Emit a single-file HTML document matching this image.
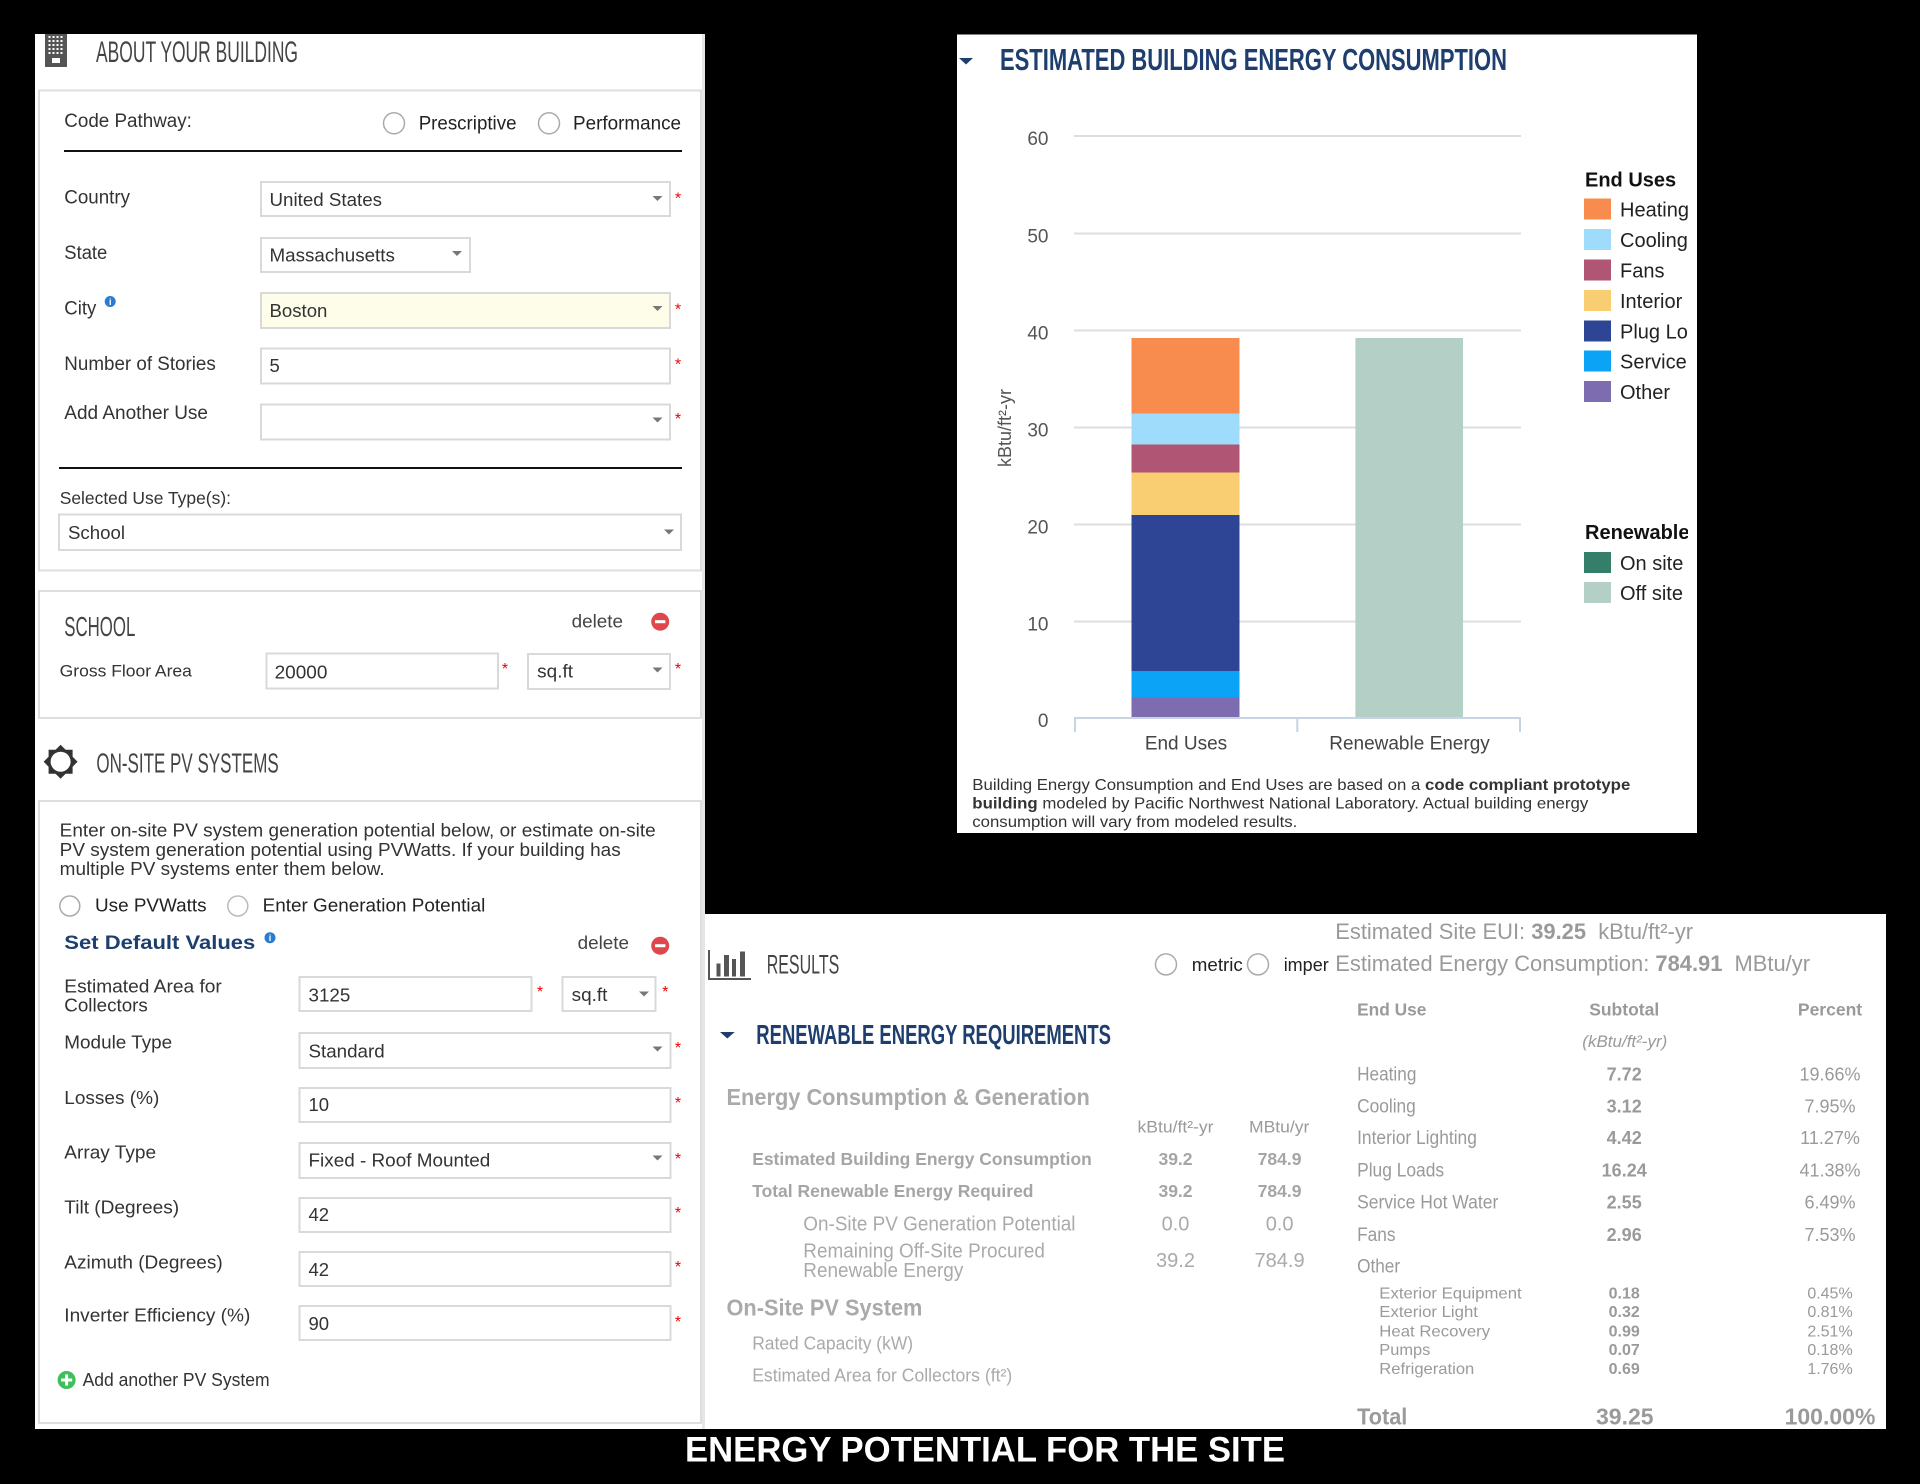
<!DOCTYPE html>
<html>
<head>
<meta charset="utf-8">
<style>
html,body{margin:0;padding:0;background:#000;}
svg{display:block;}
</style>
</head>
<body>
<svg xmlns="http://www.w3.org/2000/svg" width="1920" height="1484" viewBox="0 0 1920 1484" font-family="'Liberation Sans', Arial, sans-serif">
<defs>
  <clipPath id="legclip"><rect x="1578" y="150" width="110" height="470"/></clipPath>
  <clipPath id="impclip"><rect x="1270" y="940" width="59" height="50"/></clipPath>
  <clipPath id="respanel"><rect x="705" y="914" width="1181" height="515"/></clipPath>
</defs>
<rect width="1920" height="1484" fill="#000"/>

<!-- ================= LEFT PANEL ================= -->
<rect x="35" y="34" width="670" height="1395" fill="#fff"/>
<rect x="702" y="34" width="3" height="1395" fill="#e6e6e6"/>

<!-- building icon -->
<rect x="45" y="34" width="22" height="33" fill="#555"/>
<g fill="#fff">
  <rect x="48.5" y="36" width="2" height="2"/><rect x="52.5" y="36" width="2" height="2"/><rect x="56.5" y="36" width="2" height="2"/><rect x="60.5" y="36" width="2" height="2"/>
  <rect x="48.5" y="40" width="2" height="2"/><rect x="52.5" y="40" width="2" height="2"/><rect x="56.5" y="40" width="2" height="2"/><rect x="60.5" y="40" width="2" height="2"/>
  <rect x="48.5" y="44" width="2" height="2"/><rect x="52.5" y="44" width="2" height="2"/><rect x="56.5" y="44" width="2" height="2"/><rect x="60.5" y="44" width="2" height="2"/>
  <rect x="48.5" y="48" width="2" height="2"/><rect x="52.5" y="48" width="2" height="2"/><rect x="56.5" y="48" width="2" height="2"/><rect x="60.5" y="48" width="2" height="2"/>
  <rect x="48.5" y="52" width="2" height="2"/><rect x="52.5" y="52" width="2" height="2"/><rect x="56.5" y="52" width="2" height="2"/><rect x="60.5" y="52" width="2" height="2"/>
  <rect x="52" y="58" width="8" height="5"/>
</g>
<text x="96" y="62" font-size="30" fill="#444" textLength="202" lengthAdjust="spacingAndGlyphs">ABOUT YOUR BUILDING</text>

<!-- card 1 -->
<rect x="39" y="90.5" width="662" height="480" fill="#fff" stroke="#dedede" stroke-width="2"/>
<text x="64.3" y="127" font-size="19" fill="#333" textLength="127.6" lengthAdjust="spacingAndGlyphs">Code Pathway:</text>
<circle cx="394" cy="123.3" r="10.5" fill="#fff" stroke="#aaa" stroke-width="1.5"/>
<text x="418.7" y="129.5" font-size="19" fill="#222" textLength="97.8" lengthAdjust="spacingAndGlyphs">Prescriptive</text>
<circle cx="549" cy="123.3" r="10.5" fill="#fff" stroke="#aaa" stroke-width="1.5"/>
<text x="573" y="129.5" font-size="19" fill="#222" textLength="108" lengthAdjust="spacingAndGlyphs">Performance</text>
<rect x="64" y="150" width="618" height="2" fill="#111"/>

<text x="64.3" y="203.5" font-size="19" fill="#333" textLength="65.7" lengthAdjust="spacingAndGlyphs">Country</text>
<rect x="261" y="182" width="409" height="34" fill="#fff" stroke="#d9d9d9" stroke-width="2"/>
<text x="269.5" y="206" font-size="18.5" fill="#333" textLength="112.5" lengthAdjust="spacingAndGlyphs">United States</text>
<polygon points="652.5,196 662.5,196 657.5,201" fill="#777"/>
<text x="678" y="203.5" font-size="16" fill="#e00" text-anchor="middle">*</text>

<text x="64.3" y="259" font-size="19" fill="#333" textLength="43" lengthAdjust="spacingAndGlyphs">State</text>
<rect x="261" y="238" width="209" height="34" fill="#fff" stroke="#d9d9d9" stroke-width="2"/>
<text x="269.5" y="261.6" font-size="18.5" fill="#333" textLength="125.4" lengthAdjust="spacingAndGlyphs">Massachusetts</text>
<polygon points="452,251 462,251 457,256" fill="#777"/>

<text x="64.3" y="314.5" font-size="19" fill="#333" textLength="32" lengthAdjust="spacingAndGlyphs">City</text>
<circle cx="110.2" cy="301.5" r="5.5" fill="#2b7bd0"/>
<text x="110.2" y="305" font-size="9" font-weight="bold" fill="#fff" text-anchor="middle">i</text>
<rect x="261" y="293" width="409" height="35" fill="#fdfdea" stroke="#d9d9d9" stroke-width="2"/>
<text x="269.5" y="317" font-size="18.5" fill="#333" textLength="57.9" lengthAdjust="spacingAndGlyphs">Boston</text>
<polygon points="652.5,306 662.5,306 657.5,311" fill="#777"/>
<text x="678" y="314.6" font-size="16" fill="#e00" text-anchor="middle">*</text>

<text x="64.3" y="370" font-size="19" fill="#333" textLength="151.5" lengthAdjust="spacingAndGlyphs">Number of Stories</text>
<rect x="261" y="348.5" width="409" height="35" fill="#fff" stroke="#d9d9d9" stroke-width="2"/>
<text x="269.5" y="371.8" font-size="18.5" fill="#333">5</text>
<text x="678" y="369.7" font-size="16" fill="#e00" text-anchor="middle">*</text>

<text x="64.3" y="419.2" font-size="19" fill="#333" textLength="143.7" lengthAdjust="spacingAndGlyphs">Add Another Use</text>
<rect x="261" y="404.5" width="409" height="35" fill="#fff" stroke="#d9d9d9" stroke-width="2"/>
<polygon points="652.5,417.5 662.5,417.5 657.5,422.5" fill="#777"/>
<text x="678" y="424" font-size="16" fill="#e00" text-anchor="middle">*</text>

<rect x="59" y="467" width="623" height="2" fill="#111"/>
<text x="59.7" y="503.9" font-size="17.5" fill="#333" textLength="171.3" lengthAdjust="spacingAndGlyphs">Selected Use Type(s):</text>
<rect x="59" y="514.5" width="622" height="35.5" fill="#fff" stroke="#d9d9d9" stroke-width="2"/>
<text x="68" y="539" font-size="18.5" fill="#333" textLength="57" lengthAdjust="spacingAndGlyphs">School</text>
<polygon points="664,529.5 674,529.5 669,534.5" fill="#777"/>

<!-- card 2 SCHOOL -->
<rect x="39" y="591" width="662" height="127" fill="#fff" stroke="#dedede" stroke-width="2"/>
<text x="64.3" y="636" font-size="27.5" fill="#444" textLength="71" lengthAdjust="spacingAndGlyphs">SCHOOL</text>
<text x="571.6" y="627.3" font-size="18" fill="#444" textLength="51.4" lengthAdjust="spacingAndGlyphs">delete</text>
<circle cx="660.2" cy="621.7" r="9" fill="#e0474c"/>
<rect x="655" y="620.2" width="10.4" height="3" fill="#fff"/>
<text x="59.7" y="676.7" font-size="17" fill="#333" textLength="132.2" lengthAdjust="spacingAndGlyphs">Gross Floor Area</text>
<rect x="266.5" y="653.5" width="231.5" height="35" fill="#fff" stroke="#d9d9d9" stroke-width="2"/>
<text x="274.6" y="678.3" font-size="18.5" fill="#333" textLength="52.8" lengthAdjust="spacingAndGlyphs">20000</text>
<text x="505" y="674" font-size="16" fill="#e00" text-anchor="middle">*</text>
<rect x="528" y="654" width="142" height="35" fill="#fff" stroke="#d9d9d9" stroke-width="2"/>
<text x="537.2" y="677.3" font-size="18.5" fill="#333" textLength="35.8" lengthAdjust="spacingAndGlyphs">sq.ft</text>
<polygon points="652.5,667.5 662.5,667.5 657.5,672.5" fill="#777"/>
<text x="678" y="674" font-size="16" fill="#e00" text-anchor="middle">*</text>

<!-- sun icon -->
<polygon fill="#333" points="77.6,761.7 72.6,766.7 72.6,773.7 65.6,773.7 60.6,778.7 55.6,773.7 48.6,773.7 48.6,766.7 43.6,761.7 48.6,756.7 48.6,749.7 55.6,749.7 60.6,744.7 65.6,749.7 72.6,749.7 72.6,756.7"/>
<circle cx="60.6" cy="761.7" r="13" fill="#333"/>
<circle cx="60.6" cy="761.7" r="10" fill="#fff"/>
<text x="96.4" y="772.7" font-size="27.5" fill="#444" textLength="182.3" lengthAdjust="spacingAndGlyphs">ON-SITE PV SYSTEMS</text>

<!-- card 3 PV -->
<rect x="39" y="801" width="662" height="622" fill="#fff" stroke="#dedede" stroke-width="2"/>
<text x="59.7" y="836.7" font-size="18" fill="#333" textLength="596" lengthAdjust="spacingAndGlyphs">Enter on-site PV system generation potential below, or estimate on-site</text>
<text x="59.7" y="856" font-size="18" fill="#333" textLength="561" lengthAdjust="spacingAndGlyphs">PV system generation potential using PVWatts. If your building has</text>
<text x="59.7" y="875" font-size="18" fill="#333" textLength="325" lengthAdjust="spacingAndGlyphs">multiple PV systems enter them below.</text>

<circle cx="69.8" cy="906" r="10" fill="#fff" stroke="#aaa" stroke-width="1.5"/>
<text x="95" y="911.7" font-size="18.5" fill="#222" textLength="111.6" lengthAdjust="spacingAndGlyphs">Use PVWatts</text>
<circle cx="237.8" cy="906" r="10" fill="#fff" stroke="#bbb" stroke-width="1.5"/>
<text x="262.6" y="911.7" font-size="18.5" fill="#222" textLength="222.7" lengthAdjust="spacingAndGlyphs">Enter Generation Potential</text>

<text x="64.3" y="949" font-size="19.5" font-weight="bold" fill="#1d3f6e" textLength="191" lengthAdjust="spacingAndGlyphs">Set Default Values</text>
<circle cx="270" cy="937.7" r="5.5" fill="#2b7bd0"/>
<text x="270" y="941.2" font-size="9" font-weight="bold" fill="#fff" text-anchor="middle">i</text>
<text x="577.6" y="949" font-size="18" fill="#444" textLength="51.4" lengthAdjust="spacingAndGlyphs">delete</text>
<circle cx="660.2" cy="945.7" r="9" fill="#e0474c"/>
<rect x="655" y="944.2" width="10.4" height="3" fill="#fff"/>

<text x="64.3" y="992.7" font-size="18.5" fill="#333" textLength="157.5" lengthAdjust="spacingAndGlyphs">Estimated Area for</text>
<text x="64.3" y="1011.7" font-size="18.5" fill="#333" textLength="83.5" lengthAdjust="spacingAndGlyphs">Collectors</text>
<rect x="299.5" y="977" width="232" height="34" fill="#fff" stroke="#d9d9d9" stroke-width="2"/>
<text x="308.5" y="1001.7" font-size="18.5" fill="#333" textLength="41.8" lengthAdjust="spacingAndGlyphs">3125</text>
<text x="540" y="997" font-size="16" fill="#e00" text-anchor="middle">*</text>
<rect x="562.5" y="977" width="93" height="34" fill="#fff" stroke="#d9d9d9" stroke-width="2"/>
<text x="571.6" y="1001" font-size="18.5" fill="#333" textLength="35.8" lengthAdjust="spacingAndGlyphs">sq.ft</text>
<polygon points="639,991.5 649,991.5 644,996.5" fill="#777"/>
<text x="665.3" y="997" font-size="16" fill="#e00" text-anchor="middle">*</text>

<text x="64.3" y="1048.3" font-size="18.5" fill="#333" textLength="107.9" lengthAdjust="spacingAndGlyphs">Module Type</text>
<rect x="299.5" y="1033" width="371" height="35" fill="#fff" stroke="#d9d9d9" stroke-width="2"/>
<text x="308.5" y="1057.3" font-size="18.5" fill="#333" textLength="76.2" lengthAdjust="spacingAndGlyphs">Standard</text>
<polygon points="652.5,1046.5 662.5,1046.5 657.5,1051.5" fill="#777"/>
<text x="678" y="1053" font-size="16" fill="#e00" text-anchor="middle">*</text>

<text x="64.3" y="1104" font-size="18.5" fill="#333" textLength="95" lengthAdjust="spacingAndGlyphs">Losses (%)</text>
<rect x="299.5" y="1088" width="371" height="34" fill="#fff" stroke="#d9d9d9" stroke-width="2"/>
<text x="308.5" y="1111" font-size="18.5" fill="#333">10</text>
<text x="678" y="1108" font-size="16" fill="#e00" text-anchor="middle">*</text>

<text x="64.3" y="1158.3" font-size="18.5" fill="#333" textLength="91.8" lengthAdjust="spacingAndGlyphs">Array Type</text>
<rect x="299.5" y="1143" width="371" height="35" fill="#fff" stroke="#d9d9d9" stroke-width="2"/>
<text x="308.5" y="1166.7" font-size="18.5" fill="#333" textLength="181.8" lengthAdjust="spacingAndGlyphs">Fixed - Roof Mounted</text>
<polygon points="652.5,1155.5 662.5,1155.5 657.5,1160.5" fill="#777"/>
<text x="678" y="1164" font-size="16" fill="#e00" text-anchor="middle">*</text>

<text x="64.3" y="1213.3" font-size="18.5" fill="#333" textLength="114.8" lengthAdjust="spacingAndGlyphs">Tilt (Degrees)</text>
<rect x="299.5" y="1198" width="371" height="34" fill="#fff" stroke="#d9d9d9" stroke-width="2"/>
<text x="308.5" y="1221" font-size="18.5" fill="#333">42</text>
<text x="678" y="1218" font-size="16" fill="#e00" text-anchor="middle">*</text>

<text x="64.3" y="1268.3" font-size="18.5" fill="#333" textLength="158.4" lengthAdjust="spacingAndGlyphs">Azimuth (Degrees)</text>
<rect x="299.5" y="1252" width="371" height="34" fill="#fff" stroke="#d9d9d9" stroke-width="2"/>
<text x="308.5" y="1276" font-size="18.5" fill="#333">42</text>
<text x="678" y="1272" font-size="16" fill="#e00" text-anchor="middle">*</text>

<text x="64.3" y="1321.7" font-size="18.5" fill="#333" textLength="186" lengthAdjust="spacingAndGlyphs">Inverter Efficiency (%)</text>
<rect x="299.5" y="1306" width="371" height="34" fill="#fff" stroke="#d9d9d9" stroke-width="2"/>
<text x="308.5" y="1330" font-size="18.5" fill="#333">90</text>
<text x="678" y="1327" font-size="16" fill="#e00" text-anchor="middle">*</text>

<circle cx="66.6" cy="1380" r="9" fill="#3fbf5b"/>
<rect x="61" y="1378.5" width="11.2" height="3" fill="#fff"/>
<rect x="65.1" y="1374.4" width="3" height="11.2" fill="#fff"/>
<text x="82.6" y="1386" font-size="18" fill="#333" textLength="187" lengthAdjust="spacingAndGlyphs">Add another PV System</text>

<!-- ================= CHART PANEL ================= -->
<rect x="957" y="34.5" width="740" height="798.5" fill="#fff"/>
<polygon points="959,58 973,58 966,64.5" fill="#1d3e6e"/>
<text x="1000" y="70" font-size="31" font-weight="bold" fill="#1d3e6e" textLength="507" lengthAdjust="spacingAndGlyphs">ESTIMATED BUILDING ENERGY CONSUMPTION</text>

<g stroke="#dedede" stroke-width="2">
  <line x1="1074" y1="136" x2="1521" y2="136"/>
  <line x1="1074" y1="233.5" x2="1521" y2="233.5"/>
  <line x1="1074" y1="330.5" x2="1521" y2="330.5"/>
  <line x1="1074" y1="427.5" x2="1521" y2="427.5"/>
  <line x1="1074" y1="524.5" x2="1521" y2="524.5"/>
  <line x1="1074" y1="621.5" x2="1521" y2="621.5"/>
</g>
<g font-size="19" fill="#555" text-anchor="end">
  <text x="1048.5" y="145">60</text>
  <text x="1048.5" y="242.5">50</text>
  <text x="1048.5" y="339.5">40</text>
  <text x="1048.5" y="436.5">30</text>
  <text x="1048.5" y="533.5">20</text>
  <text x="1048.5" y="630.5">10</text>
  <text x="1048.5" y="727">0</text>
</g>
<text transform="translate(1011,428) rotate(-90)" font-size="18" fill="#555" text-anchor="middle">kBtu/ft²-yr</text>

<!-- bars -->
<rect x="1131.5" y="338" width="108" height="75.5" fill="#f78c4e"/>
<rect x="1131.5" y="413.5" width="108" height="31" fill="#9fdcfb"/>
<rect x="1131.5" y="444.5" width="108" height="28" fill="#b05573"/>
<rect x="1131.5" y="472.5" width="108" height="42.5" fill="#f9cd72"/>
<rect x="1131.5" y="515" width="108" height="156" fill="#2e4595"/>
<rect x="1131.5" y="671" width="108" height="26.5" fill="#0aa3f5"/>
<rect x="1131.5" y="697.5" width="108" height="20.5" fill="#7e6cb0"/>
<rect x="1355.4" y="338" width="107.6" height="380" fill="#b3cfc6"/>

<g stroke="#c6d4e4" stroke-width="2">
  <line x1="1074" y1="718" x2="1521" y2="718"/>
  <line x1="1075" y1="717" x2="1075" y2="732"/>
  <line x1="1297.3" y1="717" x2="1297.3" y2="732"/>
  <line x1="1520" y1="717" x2="1520" y2="732"/>
</g>
<text x="1186" y="749.5" font-size="19" fill="#444" text-anchor="middle">End Uses</text>
<text x="1409.5" y="749.5" font-size="19" fill="#444" text-anchor="middle">Renewable Energy</text>

<!-- legend -->
<g clip-path="url(#legclip)">
  <text x="1585" y="186.5" font-size="20" font-weight="bold" fill="#111">End Uses</text>
  <rect x="1584" y="198.5" width="27" height="21" fill="#f78c4e"/>
  <text x="1620" y="216.5" font-size="20" fill="#222">Heating</text>
  <rect x="1584" y="229" width="27" height="21" fill="#9fdcfb"/>
  <text x="1620" y="247" font-size="20" fill="#222">Cooling</text>
  <rect x="1584" y="259.5" width="27" height="21" fill="#b05573"/>
  <text x="1620" y="277.5" font-size="20" fill="#222">Fans</text>
  <rect x="1584" y="290" width="27" height="21" fill="#f9cd72"/>
  <text x="1620" y="308" font-size="20" fill="#222">Interior</text>
  <rect x="1584" y="320.5" width="27" height="21" fill="#2e4595"/>
  <text x="1620" y="338.5" font-size="20" fill="#222">Plug Loads</text>
  <rect x="1584" y="350.5" width="27" height="21" fill="#0aa3f5"/>
  <text x="1620" y="368.5" font-size="20" fill="#222">Service</text>
  <rect x="1584" y="381" width="27" height="21" fill="#7e6cb0"/>
  <text x="1620" y="399" font-size="20" fill="#222">Other</text>

  <text x="1585" y="539" font-size="20" font-weight="bold" fill="#111">Renewable</text>
  <rect x="1584" y="552" width="27" height="21" fill="#357f6a"/>
  <text x="1620" y="570" font-size="20" fill="#222">On site</text>
  <rect x="1584" y="582" width="27" height="21" fill="#b3cfc6"/>
  <text x="1620" y="600" font-size="20" fill="#222">Off site</text>
</g>

<text x="972.3" y="790" font-size="16" fill="#333" textLength="658" lengthAdjust="spacingAndGlyphs">Building Energy Consumption and End Uses are based on a <tspan font-weight="bold">code compliant prototype</tspan></text>
<text x="972.3" y="808.5" font-size="16" fill="#333" textLength="616" lengthAdjust="spacingAndGlyphs"><tspan font-weight="bold">building</tspan> modeled by Pacific Northwest National Laboratory. Actual building energy</text>
<text x="972.3" y="827" font-size="16" fill="#333" textLength="325" lengthAdjust="spacingAndGlyphs">consumption will vary from modeled results.</text>

<!-- ================= RESULTS PANEL ================= -->
<rect x="705" y="914" width="1181" height="515" fill="#fff"/>
<g clip-path="url(#respanel)">
<!-- results icon -->
<g fill="#555">
  <rect x="708" y="950" width="2" height="30"/>
  <rect x="708" y="978" width="43" height="2"/>
  <rect x="716.5" y="963.5" width="4" height="13"/>
  <rect x="724" y="955" width="5" height="21.5"/>
  <rect x="732" y="959" width="4" height="17.5"/>
  <rect x="740" y="951.5" width="5" height="25"/>
</g>
<text x="766.7" y="973.3" font-size="26.5" fill="#444" textLength="72.6" lengthAdjust="spacingAndGlyphs">RESULTS</text>

<circle cx="1166" cy="964.4" r="10.5" fill="#fff" stroke="#aaa" stroke-width="1.5"/>
<text x="1191.8" y="970.8" font-size="18" fill="#222" textLength="51" lengthAdjust="spacingAndGlyphs">metric</text>
<circle cx="1258" cy="964.4" r="10.5" fill="#fff" stroke="#aaa" stroke-width="1.5"/>
<g clip-path="url(#impclip)"><text x="1283.7" y="970.8" font-size="18" fill="#222">imperial</text></g>

<text x="1335.3" y="939.1" font-size="22" fill="#9a9a9a" textLength="357.8" lengthAdjust="spacingAndGlyphs" xml:space="preserve">Estimated Site EUI: <tspan font-weight="bold">39.25</tspan>  kBtu/ft²-yr</text>
<text x="1335.3" y="970.8" font-size="22" fill="#9a9a9a" textLength="474.7" lengthAdjust="spacingAndGlyphs" xml:space="preserve">Estimated Energy Consumption: <tspan font-weight="bold">784.91</tspan>  MBtu/yr</text>

<polygon points="720,1032 734.7,1032 727.3,1038.5" fill="#1d3e6e"/>
<text x="756.3" y="1044" font-size="27.5" font-weight="bold" fill="#1d3e6e" textLength="354.7" lengthAdjust="spacingAndGlyphs">RENEWABLE ENERGY REQUIREMENTS</text>

<text x="726.5" y="1104.8" font-size="23" font-weight="bold" fill="#aaa" textLength="363.3" lengthAdjust="spacingAndGlyphs">Energy Consumption &amp; Generation</text>
<text x="1137.5" y="1132.5" font-size="17" fill="#9a9a9a" textLength="76" lengthAdjust="spacingAndGlyphs">kBtu/ft²-yr</text>
<text x="1249" y="1132.5" font-size="17" fill="#9a9a9a" textLength="60.4" lengthAdjust="spacingAndGlyphs">MBtu/yr</text>

<text x="752.2" y="1165.2" font-size="17.5" font-weight="bold" fill="#a5a5a5" textLength="339.6" lengthAdjust="spacingAndGlyphs">Estimated Building Energy Consumption</text>
<text x="1175.5" y="1165.2" font-size="17.5" font-weight="bold" fill="#a5a5a5" text-anchor="middle">39.2</text>
<text x="1279.6" y="1165.2" font-size="17.5" font-weight="bold" fill="#a5a5a5" text-anchor="middle">784.9</text>

<text x="752.2" y="1196.8" font-size="17.5" font-weight="bold" fill="#a5a5a5" textLength="281.3" lengthAdjust="spacingAndGlyphs">Total Renewable Energy Required</text>
<text x="1175.5" y="1196.8" font-size="17.5" font-weight="bold" fill="#a5a5a5" text-anchor="middle">39.2</text>
<text x="1279.6" y="1196.8" font-size="17.5" font-weight="bold" fill="#a5a5a5" text-anchor="middle">784.9</text>

<text x="803.3" y="1230.7" font-size="20" fill="#aaa" textLength="272.2" lengthAdjust="spacingAndGlyphs">On-Site PV Generation Potential</text>
<text x="1175.5" y="1230.7" font-size="20" fill="#aaa" text-anchor="middle">0.0</text>
<text x="1279.6" y="1230.7" font-size="20" fill="#aaa" text-anchor="middle">0.0</text>

<text x="803.3" y="1257.5" font-size="20" fill="#aaa" textLength="241.6" lengthAdjust="spacingAndGlyphs">Remaining Off-Site Procured</text>
<text x="803.3" y="1277" font-size="20" fill="#aaa" textLength="160" lengthAdjust="spacingAndGlyphs">Renewable Energy</text>
<text x="1175.5" y="1266.8" font-size="20" fill="#aaa" text-anchor="middle">39.2</text>
<text x="1279.6" y="1266.8" font-size="20" fill="#aaa" text-anchor="middle">784.9</text>

<text x="726.5" y="1315.3" font-size="23" font-weight="bold" fill="#aaa" textLength="195.9" lengthAdjust="spacingAndGlyphs">On-Site PV System</text>
<text x="752.2" y="1349.5" font-size="18" fill="#aaa" textLength="160.9" lengthAdjust="spacingAndGlyphs">Rated Capacity (kW)</text>
<text x="752.2" y="1381.5" font-size="18" fill="#aaa" textLength="260" lengthAdjust="spacingAndGlyphs">Estimated Area for Collectors (ft²)</text>

<!-- end-use table -->
<g fill="#9a9a9a">
  <text x="1357.1" y="1015.5" font-size="17.5" font-weight="bold" textLength="69.3" lengthAdjust="spacingAndGlyphs">End Use</text>
  <text x="1624.2" y="1015.5" font-size="17.5" font-weight="bold" text-anchor="middle">Subtotal</text>
  <text x="1830" y="1015.5" font-size="17.5" font-weight="bold" text-anchor="middle">Percent</text>
  <text x="1624.8" y="1047.1" font-size="17" font-style="italic" text-anchor="middle">(kBtu/ft²-yr)</text>

  <text x="1357.1" y="1080.6" font-size="19" textLength="59.3" lengthAdjust="spacingAndGlyphs">Heating</text>
  <text x="1624.2" y="1080.6" font-size="18" font-weight="bold" text-anchor="middle">7.72</text>
  <text x="1830" y="1080.6" font-size="18" text-anchor="middle">19.66%</text>

  <text x="1357.1" y="1112.3" font-size="19" textLength="58.7" lengthAdjust="spacingAndGlyphs">Cooling</text>
  <text x="1624.2" y="1112.3" font-size="18" font-weight="bold" text-anchor="middle">3.12</text>
  <text x="1830" y="1112.3" font-size="18" text-anchor="middle">7.95%</text>

  <text x="1357.1" y="1143.9" font-size="19" textLength="119.8" lengthAdjust="spacingAndGlyphs">Interior Lighting</text>
  <text x="1624.2" y="1143.9" font-size="18" font-weight="bold" text-anchor="middle">4.42</text>
  <text x="1830" y="1143.9" font-size="18" text-anchor="middle">11.27%</text>

  <text x="1357.1" y="1176.3" font-size="19" textLength="87" lengthAdjust="spacingAndGlyphs">Plug Loads</text>
  <text x="1624.2" y="1176.3" font-size="18" font-weight="bold" text-anchor="middle">16.24</text>
  <text x="1830" y="1176.3" font-size="18" text-anchor="middle">41.38%</text>

  <text x="1357.1" y="1208.4" font-size="19" textLength="141.2" lengthAdjust="spacingAndGlyphs">Service Hot Water</text>
  <text x="1624.2" y="1208.4" font-size="18" font-weight="bold" text-anchor="middle">2.55</text>
  <text x="1830" y="1208.4" font-size="18" text-anchor="middle">6.49%</text>

  <text x="1357.1" y="1240.8" font-size="19" textLength="38.5" lengthAdjust="spacingAndGlyphs">Fans</text>
  <text x="1624.2" y="1240.8" font-size="18" font-weight="bold" text-anchor="middle">2.96</text>
  <text x="1830" y="1240.8" font-size="18" text-anchor="middle">7.53%</text>

  <text x="1357.1" y="1272.4" font-size="19" textLength="43" lengthAdjust="spacingAndGlyphs">Other</text>

  <text x="1379.3" y="1298.5" font-size="16" textLength="142.4" lengthAdjust="spacingAndGlyphs">Exterior Equipment</text>
  <text x="1624.2" y="1298.5" font-size="16" font-weight="bold" text-anchor="middle">0.18</text>
  <text x="1830" y="1298.5" font-size="16" text-anchor="middle">0.45%</text>

  <text x="1379.3" y="1317.1" font-size="16" textLength="98.6" lengthAdjust="spacingAndGlyphs">Exterior Light</text>
  <text x="1624.2" y="1317.1" font-size="16" font-weight="bold" text-anchor="middle">0.32</text>
  <text x="1830" y="1317.1" font-size="16" text-anchor="middle">0.81%</text>

  <text x="1379.3" y="1336.5" font-size="16" textLength="110.8" lengthAdjust="spacingAndGlyphs">Heat Recovery</text>
  <text x="1624.2" y="1336.5" font-size="16" font-weight="bold" text-anchor="middle">0.99</text>
  <text x="1830" y="1336.5" font-size="16" text-anchor="middle">2.51%</text>

  <text x="1379.3" y="1355.1" font-size="16" textLength="51" lengthAdjust="spacingAndGlyphs">Pumps</text>
  <text x="1624.2" y="1355.1" font-size="16" font-weight="bold" text-anchor="middle">0.07</text>
  <text x="1830" y="1355.1" font-size="16" text-anchor="middle">0.18%</text>

  <text x="1379.3" y="1374.1" font-size="16" textLength="95" lengthAdjust="spacingAndGlyphs">Refrigeration</text>
  <text x="1624.2" y="1374.1" font-size="16" font-weight="bold" text-anchor="middle">0.69</text>
  <text x="1830" y="1374.1" font-size="16" text-anchor="middle">1.76%</text>

  <text x="1357.1" y="1424.5" font-size="23" font-weight="bold" textLength="50.2" lengthAdjust="spacingAndGlyphs">Total</text>
  <text x="1624.8" y="1424.5" font-size="23" font-weight="bold" text-anchor="middle">39.25</text>
  <text x="1830" y="1424.5" font-size="23" font-weight="bold" text-anchor="middle">100.00%</text>
</g>
</g>

<!-- bottom title -->
<text x="685" y="1461.7" font-size="35" font-weight="bold" fill="#fff" textLength="600" lengthAdjust="spacingAndGlyphs">ENERGY POTENTIAL FOR THE SITE</text>
</svg>
</body>
</html>
